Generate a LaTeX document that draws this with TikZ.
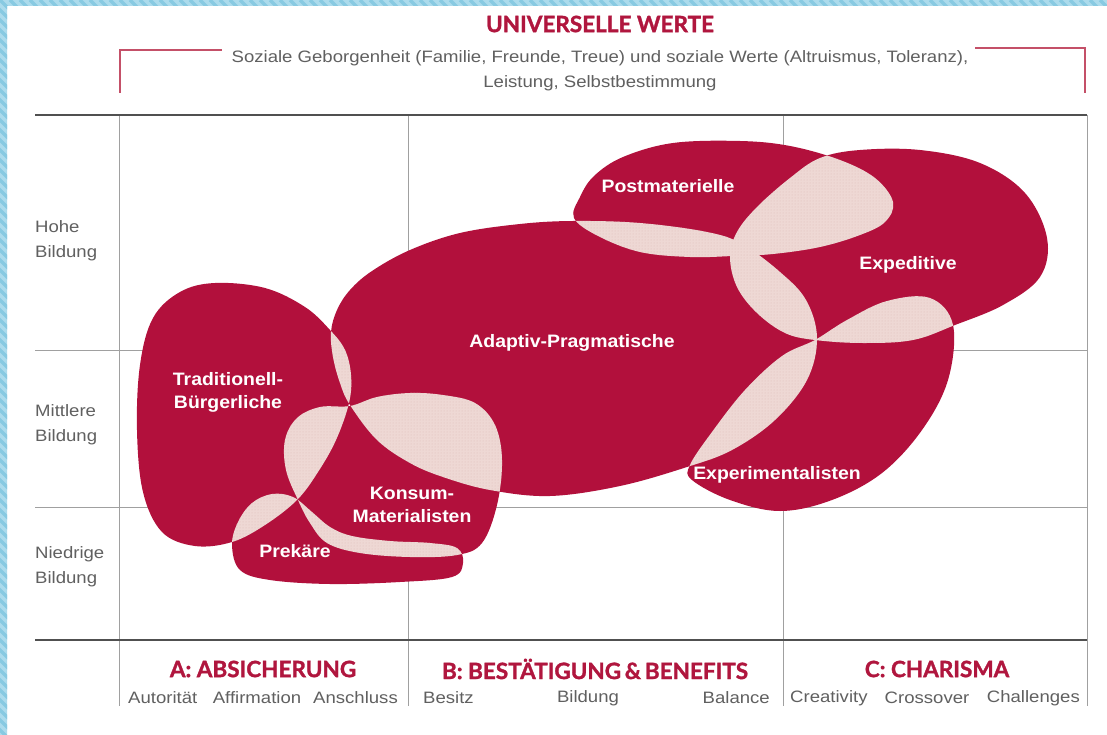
\documentclass[tikz,border=0pt]{standalone}
\usepackage{fontspec}
\setmainfont{Liberation Sans}
\newfontfamily\blobfont[FakeStretch=1.08]{Liberation Sans}
\newfontfamily\greyfont[FakeStretch=1.125]{Liberation Sans}
\newfontfamily\headfont[BoldFeatures={FakeBold=1.4}]{Lato}
\usetikzlibrary{patterns}

\definecolor{crimson}{RGB}{178,16,60}
\definecolor{headred}{RGB}{176,22,62}
\definecolor{bracketred}{RGB}{196,80,104}
\definecolor{blush}{RGB}{238,216,212}
\definecolor{dotc}{RGB}{222,188,184}
\definecolor{ink}{RGB}{96,96,96}
\definecolor{rule}{RGB}{160,160,160}
\definecolor{darkrule}{RGB}{80,80,80}
\definecolor{stripeA}{RGB}{172,219,236}
\definecolor{stripeB}{RGB}{136,202,226}

% milieu outlines (pixel-like units, y pointing down)
\def\pTB{plot[smooth cycle, tension=0.6] coordinates {(215,283) (265,288) (305,307) (330,330) (345,350) (351,375) (349,403) (336,440) (318,472) (297,500) (265,525) (232,542) (195,546) (162,532) (143,492) (137,430) (140,365) (153,318) (180,292)}}
\def\pAP{plot[smooth cycle, tension=0.6] coordinates {(350,405) (340,383) (333,357) (331,332) (337,310) (350,290) (372,271) (410,250) (460,233) (520,224) (573,221) (640,223) (707,232) (742,244) (780,272) (806,300) (817,338) (807,380) (775,420) (732,450) (687,467) (620,486) (550,496) (490,490) (443,477) (410,463) (377,440)}}
\def\pKM{plot[smooth cycle, tension=0.6] coordinates {(350,406) (377,397) (410,393) (443,395) (475,403) (495,425) (502,460) (497,505) (482,543) (457,555) (410,557) (360,553) (327,543) (310,523) (298,500) (286,470) (285,440) (297,418) (320,407)}}
\def\pPR{plot[smooth cycle, tension=0.6] coordinates {(232,545) (238,522) (252,503) (272,494) (293,497) (312,512) (330,527) (352,536) (390,541) (430,543) (457,548) (463,563) (452,577) (400,582) (330,584) (270,580) (240,570)}}
\def\pPM{plot[smooth cycle, tension=0.6] coordinates {(574,218) (580,197) (594,176) (623,157) (673,143) (740,141) (790,146) (840,160) (875,178) (893,202) (885,222) (860,235) (820,247) (773,254) (733,256) (690,257) (640,252) (598,236)}}
\def\pEX{plot[smooth cycle, tension=0.6] coordinates {(815,340) (785,333) (757,313) (737,287) (730,257) (737,232) (757,207) (790,178) (820,158) (860,150) (920,150) (980,163) (1025,193) (1047,238) (1040,277) (1003,305) (955,325) (913,340) (863,343)}}
\def\pEXP{plot[smooth cycle, tension=0.6] coordinates {(815,340) (847,320) (887,301) (930,298) (953,325) (948,380) (922,430) (882,473) (832,500) (780,511) (730,500) (692,480) (690,465) (712,432) (745,390) (782,356)}}

% shade the part shared by two milieus
\newcommand\sharedpart[2]{%
  \begin{scope}
    \clip #1;
    \fill[blush] #2;
    \fill[pattern=dots, pattern color=dotc] #2;
  \end{scope}}

\tikzset{
  blobtext/.style={text=white, align=center,
    font=\blobfont\bfseries\fontsize{18}{23}\selectfont, inner sep=0pt},
  greytext/.style={text=ink, font=\greyfont\fontsize{16.5}{25}\selectfont, inner sep=0pt},
  headtext/.style={text=headred, font=\headfont\bfseries\fontsize{22.5}{26}\selectfont, inner sep=0pt},
  gridline/.style={draw=rule, line width=0.9pt},
  mainline/.style={draw=darkrule, line width=1.6pt},
  bracket/.style={draw=bracketred, line width=1.2pt},
}

\begin{document}
\begin{tikzpicture}[x=1pt, y=-1pt]
\useasboundingbox (0,0) rectangle (1107,735);
\fill[white] (0,0) rectangle (1107,735);

% striped frame edges
\begin{scope}
  \clip (0,0) rectangle (7,735) (0,0) rectangle (1107,6);
  \fill[stripeA] (0,0) rectangle (1107,735);
  \foreach \i in {-740,-730,...,1110}
    \draw[stripeB, line width=3.5pt] (\i,0) -- ++(740,740);
\end{scope}

% heading and bracket
\node[headtext] (title) at (600,24) {UNIVERSELLE WERTE};
\node[greytext] (sub1) at (600,58) {Soziale Geborgenheit (Familie, Freunde, Treue) und soziale Werte (Altruismus, Toleranz),};
\node[greytext] (sub2) at (600,83) {Leistung, Selbstbestimmung};
\draw[bracket] (120,93) -- (120,50) -- (222,50);
\draw[bracket] (975,48) -- (1085,48) -- (1085,93);

% grid
\draw[gridline] (35,350) -- (1087,350);
\draw[gridline] (35,507) -- (1087,507);
\foreach \gx in {119,408,783,1087}
  \draw[gridline] (\gx,115) -- (\gx,706);
\draw[mainline] (35,115) -- (1087,115);
\draw[mainline] (35,640) -- (1087,640);

% education levels
\node[greytext, anchor=west, align=left] (hoch) at (35,241) {Hohe\\Bildung};
\node[greytext, anchor=west, align=left] (mittel) at (35,425) {Mittlere\\Bildung};
\node[greytext, anchor=west, align=left] (niedrig) at (35,567) {Niedrige\\Bildung};

% value orientations
\node[headtext] (colA) at (263,669) {A: ABSICHERUNG};
\node[headtext] (colB) at (595,669) {B: BESTÄTIGUNG\,\&\,BENEFITS};
\node[headtext] (colC) at (937,669) {C: CHARISMA};

\node[greytext, anchor=west] (a1) at (128,698) {Autorität};
\node[greytext] (a2) at (257,698) {Affirmation};
\node[greytext, anchor=east] (a3) at (398,698) {Anschluss};
\node[greytext, anchor=west] (b1) at (423,698) {Besitz};
\node[greytext] (b2) at (588,698) {Bildung};
\node[greytext, anchor=east] (b3) at (770,698) {Balance};
\node[greytext, anchor=west] (c1) at (790,698) {Creativity};
\node[greytext] (c2) at (927,698) {Crossover};
\node[greytext, anchor=east] (c3) at (1080,698) {Challenges};

% milieus
\fill[crimson] \pTB;
\fill[crimson] \pAP;
\fill[crimson] \pKM;
\fill[crimson] \pPR;
\fill[crimson] \pPM;
\fill[crimson] \pEX;
\fill[crimson] \pEXP;

% shared parts
\sharedpart{\pTB}{\pAP}
\sharedpart{\pTB}{\pKM}
\sharedpart{\pTB}{\pPR}
\sharedpart{\pAP}{\pKM}
\sharedpart{\pKM}{\pPR}
\sharedpart{\pAP}{\pPM}
\sharedpart{\pAP}{\pEX}
\sharedpart{\pAP}{\pEXP}
\sharedpart{\pPM}{\pEX}
\sharedpart{\pEX}{\pEXP}

% milieu names
\node[blobtext] (tb) at (228,392) {Traditionell-\\Bürgerliche};
\node[blobtext] (ap) at (572,343) {Adaptiv-Pragmatische};
\node[blobtext] (pm) at (668,186) {Postmaterielle};
\node[blobtext] (ex) at (908,265) {Expeditive};
\node[blobtext] (km) at (412,505) {Konsum-\\Materialisten};
\node[blobtext] (pr) at (295,551) {Prekäre};
\node[blobtext] (exp) at (777,475) {Experimentalisten};
\end{tikzpicture}
\end{document}
